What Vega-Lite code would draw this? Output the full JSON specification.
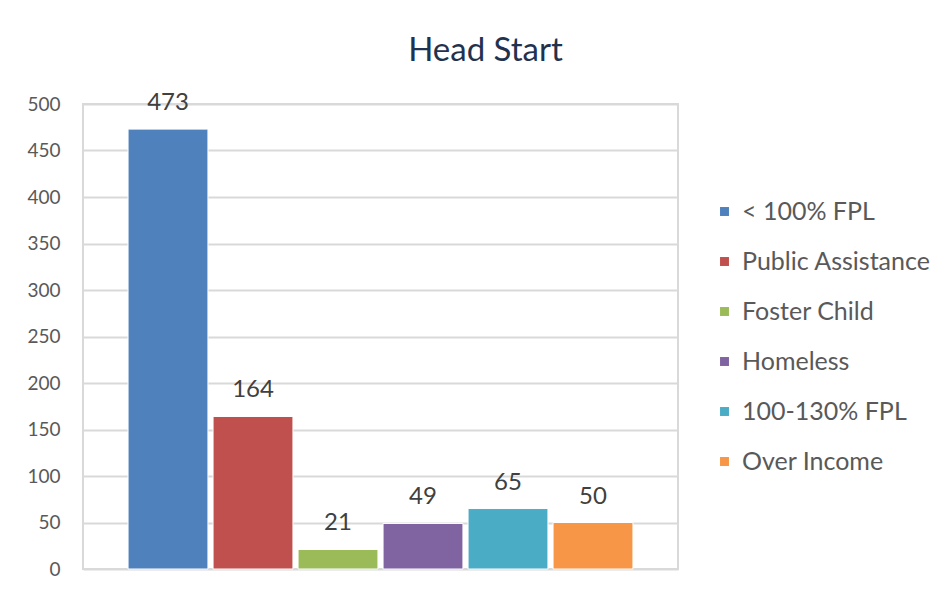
{
  "$schema": "https://vega.github.io/schema/vega-lite/v6.json",
  "autosize": "none",
  "width": 595,
  "height": 465,
  "padding": {"left": 83, "top": 104, "right": 274, "bottom": 26},
  "background": "white",
  "config": {
    "view": {"stroke": "#d9d9d9", "strokeWidth": 2},
    "font": "Lato"
  },
  "title": {
    "text": "Head Start",
    "fontSize": 33,
    "fontWeight": "normal",
    "color": "#1f3350",
    "font": "Lato",
    "anchor": "middle",
    "frame": "group",
    "dx": 105,
    "offset": -3,
    "baseline": "alphabetic"
  },
  "data": {
    "values": [
      {"category": "< 100% FPL", "value": 473},
      {"category": "Public Assistance", "value": 164},
      {"category": "Foster Child", "value": 21},
      {"category": "Homeless", "value": 49},
      {"category": "100-130% FPL", "value": 65},
      {"category": "Over Income", "value": 50}
    ]
  },
  "encoding": {
    "x": {
      "field": "category",
      "type": "nominal",
      "sort": null,
      "axis": null,
      "scale": {"paddingInner": 0.06, "paddingOuter": 0.53}
    },
    "y": {
      "field": "value",
      "type": "quantitative",
      "scale": {"domain": [0, 500], "nice": false},
      "axis": {
        "title": null,
        "values": [0, 50, 100, 150, 200, 250, 300, 350, 400, 450, 500],
        "domain": false,
        "ticks": false,
        "labelPadding": 23,
        "labelFontSize": 19,
        "labelColor": "#595959",
        "labelFont": "Lato",
        "gridColor": "#d9d9d9",
        "gridWidth": 2
      }
    }
  },
  "layer": [
    {
      "mark": {"type": "bar", "stroke": "white", "strokeWidth": 1},
      "encoding": {
        "color": {
          "field": "category",
          "type": "nominal",
          "sort": null,
          "scale": {
            "domain": ["< 100% FPL", "Public Assistance", "Foster Child", "Homeless", "100-130% FPL", "Over Income"],
            "range": ["#4f81bd", "#c0504d", "#9bbb59", "#8064a2", "#4bacc6", "#f79646"]
          },
          "legend": {
            "title": null,
            "orient": "none",
            "legendX": 629,
            "legendY": 95,
            "symbolType": "square",
            "symbolSize": 80,
            "symbolStrokeWidth": 0,
            "labelFontSize": 25,
            "labelFont": "Lato",
            "labelColor": "#595959",
            "labelOffset": 5,
            "rowPadding": 24,
            "labelLimit": 300
          }
        }
      }
    },
    {
      "mark": {
        "type": "text",
        "fontSize": 24,
        "color": "#404040",
        "baseline": "alphabetic",
        "dy": -19,
        "font": "Lato"
      },
      "encoding": {
        "text": {"field": "value", "type": "quantitative"}
      }
    }
  ]
}
